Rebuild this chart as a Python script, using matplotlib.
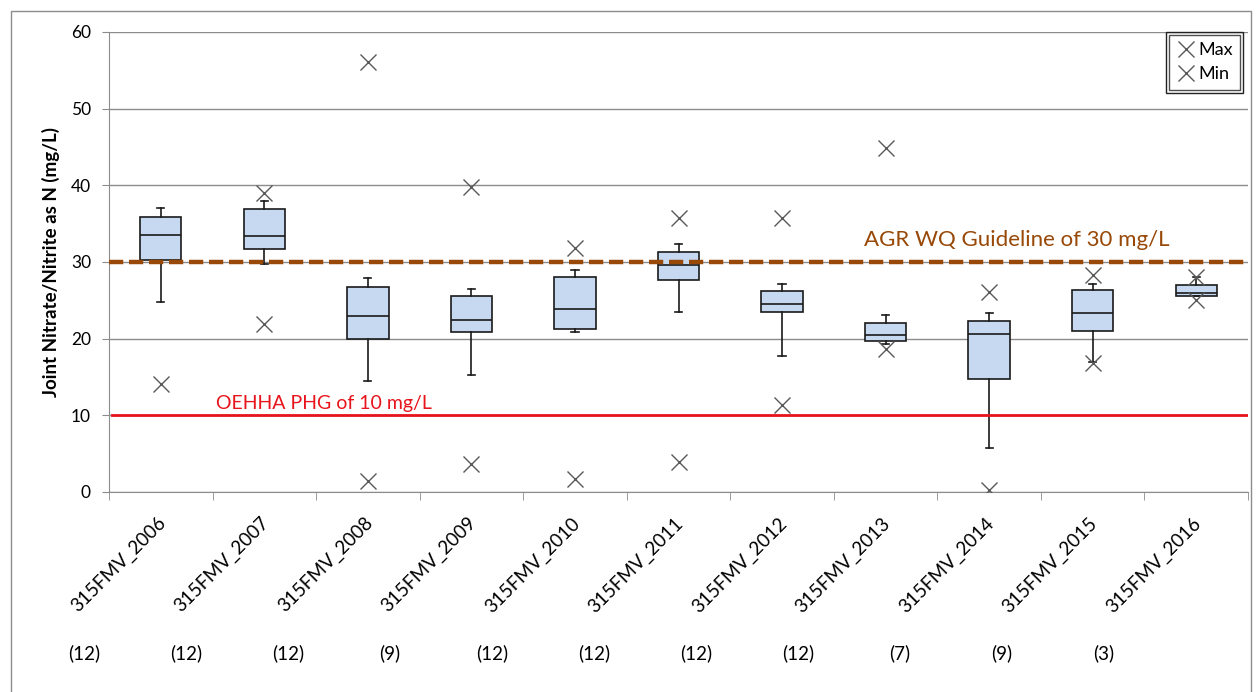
import numpy as np
import matplotlib.pyplot as plt
from matplotlib.patches import Rectangle
import matplotlib.transforms as mtransforms

plt.rcParams['font.family'] = ['Lato', 'DejaVu Sans']

# data
sites = ['315FMV_2006', '315FMV_2007', '315FMV_2008', '315FMV_2009', '315FMV_2010',
         '315FMV_2011', '315FMV_2012', '315FMV_2013', '315FMV_2014', '315FMV_2015',
         '315FMV_2016']
counts = ['(12)', '(12)', '(12)', '(9)', '(12)', '(12)', '(12)', '(12)', '(7)', '(9)', '(3)']
q1 = [30.3, 31.7, 20.0, 20.9, 21.3, 27.6, 23.5, 19.7, 14.8, 21.0, 25.6]
median = [33.5, 33.4, 23.0, 22.5, 23.9, 29.6, 24.5, 20.5, 20.6, 23.4, 26.0]
q3 = [35.9, 36.9, 26.8, 25.6, 28.0, 31.3, 26.2, 22.1, 22.3, 26.3, 27.0]
whisker_lo = [24.8, 29.8, 14.5, 15.3, 20.9, 23.5, 17.8, 19.3, 5.7, 17.0, 25.6]
whisker_hi = [37.0, 38.0, 27.9, 26.5, 29.0, 32.4, 27.1, 23.1, 23.3, 27.1, 28.0]
max_vals = [np.nan, 39.0, 56.1, 39.8, 31.8, 35.8, 35.8, 44.9, 26.1, 28.3, 28.0]
min_vals = [14.1, 21.9, 1.4, 3.7, 1.7, 3.9, 11.4, 18.7, 0.3, 16.8, 25.0]
phg = 10
agr = 30

fig = plt.figure(figsize=(12.57, 6.92), dpi=100)
ax = fig.add_axes([109 / 1257, 200 / 692, (1248 - 109) / 1257, 460 / 692])

x = np.arange(len(sites))
stats = [dict(med=m, q1=a, q3=b, whislo=lo, whishi=hi, fliers=[])
         for m, a, b, lo, hi in zip(median, q1, q3, whisker_lo, whisker_hi)]
ax.bxp(stats, positions=x, widths=0.4, capwidths=0.07, patch_artist=True,
       boxprops=dict(facecolor='#c6d9f1', edgecolor='#1a1a1a', linewidth=1.2),
       medianprops=dict(color='#1a1a1a', linewidth=1.2),
       whiskerprops=dict(color='#1a1a1a', linewidth=1.2),
       capprops=dict(color='#1a1a1a', linewidth=1.2), zorder=3)

# guideline lines
ax.axhline(agr, color='#984807', lw=3.2, dashes=(3.2, 1.3), zorder=4)
ax.plot([-0.47, 10.5], [phg, phg], color='#e8141c', lw=2, zorder=4)
ax.text(0.53, phg + 1.6, 'OEHHA PHG of 10 mg/L', color='#e8141c', fontsize=14,
        va='center', ha='left')
ax.text(6.79, agr + 2.9, 'AGR WQ Guideline of 30 mg/L', color='#984807', fontsize=16,
        va='center', ha='left')

# max / min markers
ax.plot(x, max_vals, ls='none', marker='x', ms=12, mew=1, color='#595959', zorder=5, label='Max')
ax.plot(x, min_vals, ls='none', marker='x', ms=12, mew=1, color='#595959', zorder=5, label='Min')

ax.set_xlim(-0.5, len(sites) - 0.5)
ax.set_ylim(0, 60)
ax.set_yticks(np.arange(0, 61, 10))
ax.grid(axis='y', color='#8c8c8c', lw=1)
ax.set_axisbelow(True)
for s in ['top', 'right']:
    ax.spines[s].set_visible(False)
ax.spines['left'].set_color('#8c8c8c')
ax.spines['bottom'].set_color('#8c8c8c')
ax.tick_params(axis='y', length=5, color='#8c8c8c', labelsize=12.5, pad=8)

ax.set_xticks(x)
ax.set_xticklabels(sites, rotation=45, ha='right', va='top', rotation_mode='anchor', fontsize=13.5)
ax.tick_params(axis='x', which='major', length=0, pad=16)
ax.set_xticks(np.arange(-0.5, len(sites)), minor=True)
ax.tick_params(axis='x', which='minor', length=6, color='#8c8c8c')
for lbl in ax.get_xticklabels():
    lbl.set_transform(lbl.get_transform() + mtransforms.ScaledTranslation(-4 / 100, 0, fig.dpi_scale_trans))

ax.set_ylabel('Joint Nitrate/Nitrite as N (mg/L)', fontsize=13.5, fontweight='bold', labelpad=8)

trans = mtransforms.blended_transform_factory(ax.transData, ax.transAxes)
for i, c in enumerate(counts):
    ax.text(i * 0.985 - 0.74, -0.35, c, transform=trans, ha='center', va='center', fontsize=13.5)

leg = ax.legend(loc='upper right', bbox_to_anchor=(1240 / 1257, 657 / 692),
                bbox_transform=fig.transFigure, frameon=True, fancybox=False,
                handlelength=1.1, handletextpad=0.1, fontsize=13, borderpad=0.4,
                labelspacing=0.45, borderaxespad=0)
leg.get_frame().set_edgecolor('#222222')
leg.get_frame().set_linewidth(1)
leg._legend_box.align = 'left'

# outer chart border
fig.patches.append(Rectangle((11 / 1257, -0.05), 1240 / 1257, 1.05 - 11 / 692,
                             transform=fig.transFigure, fill=False,
                             edgecolor='#8c8c8c', lw=1))

fig.canvas.draw()
bb = leg.get_window_extent()
fig.patches.append(Rectangle((bb.x0 - 3, bb.y0 - 3), bb.width + 6, bb.height + 6,
                             transform=None, fill=False, edgecolor='#222222', lw=1))

fig.savefig('out.png', dpi=100)
